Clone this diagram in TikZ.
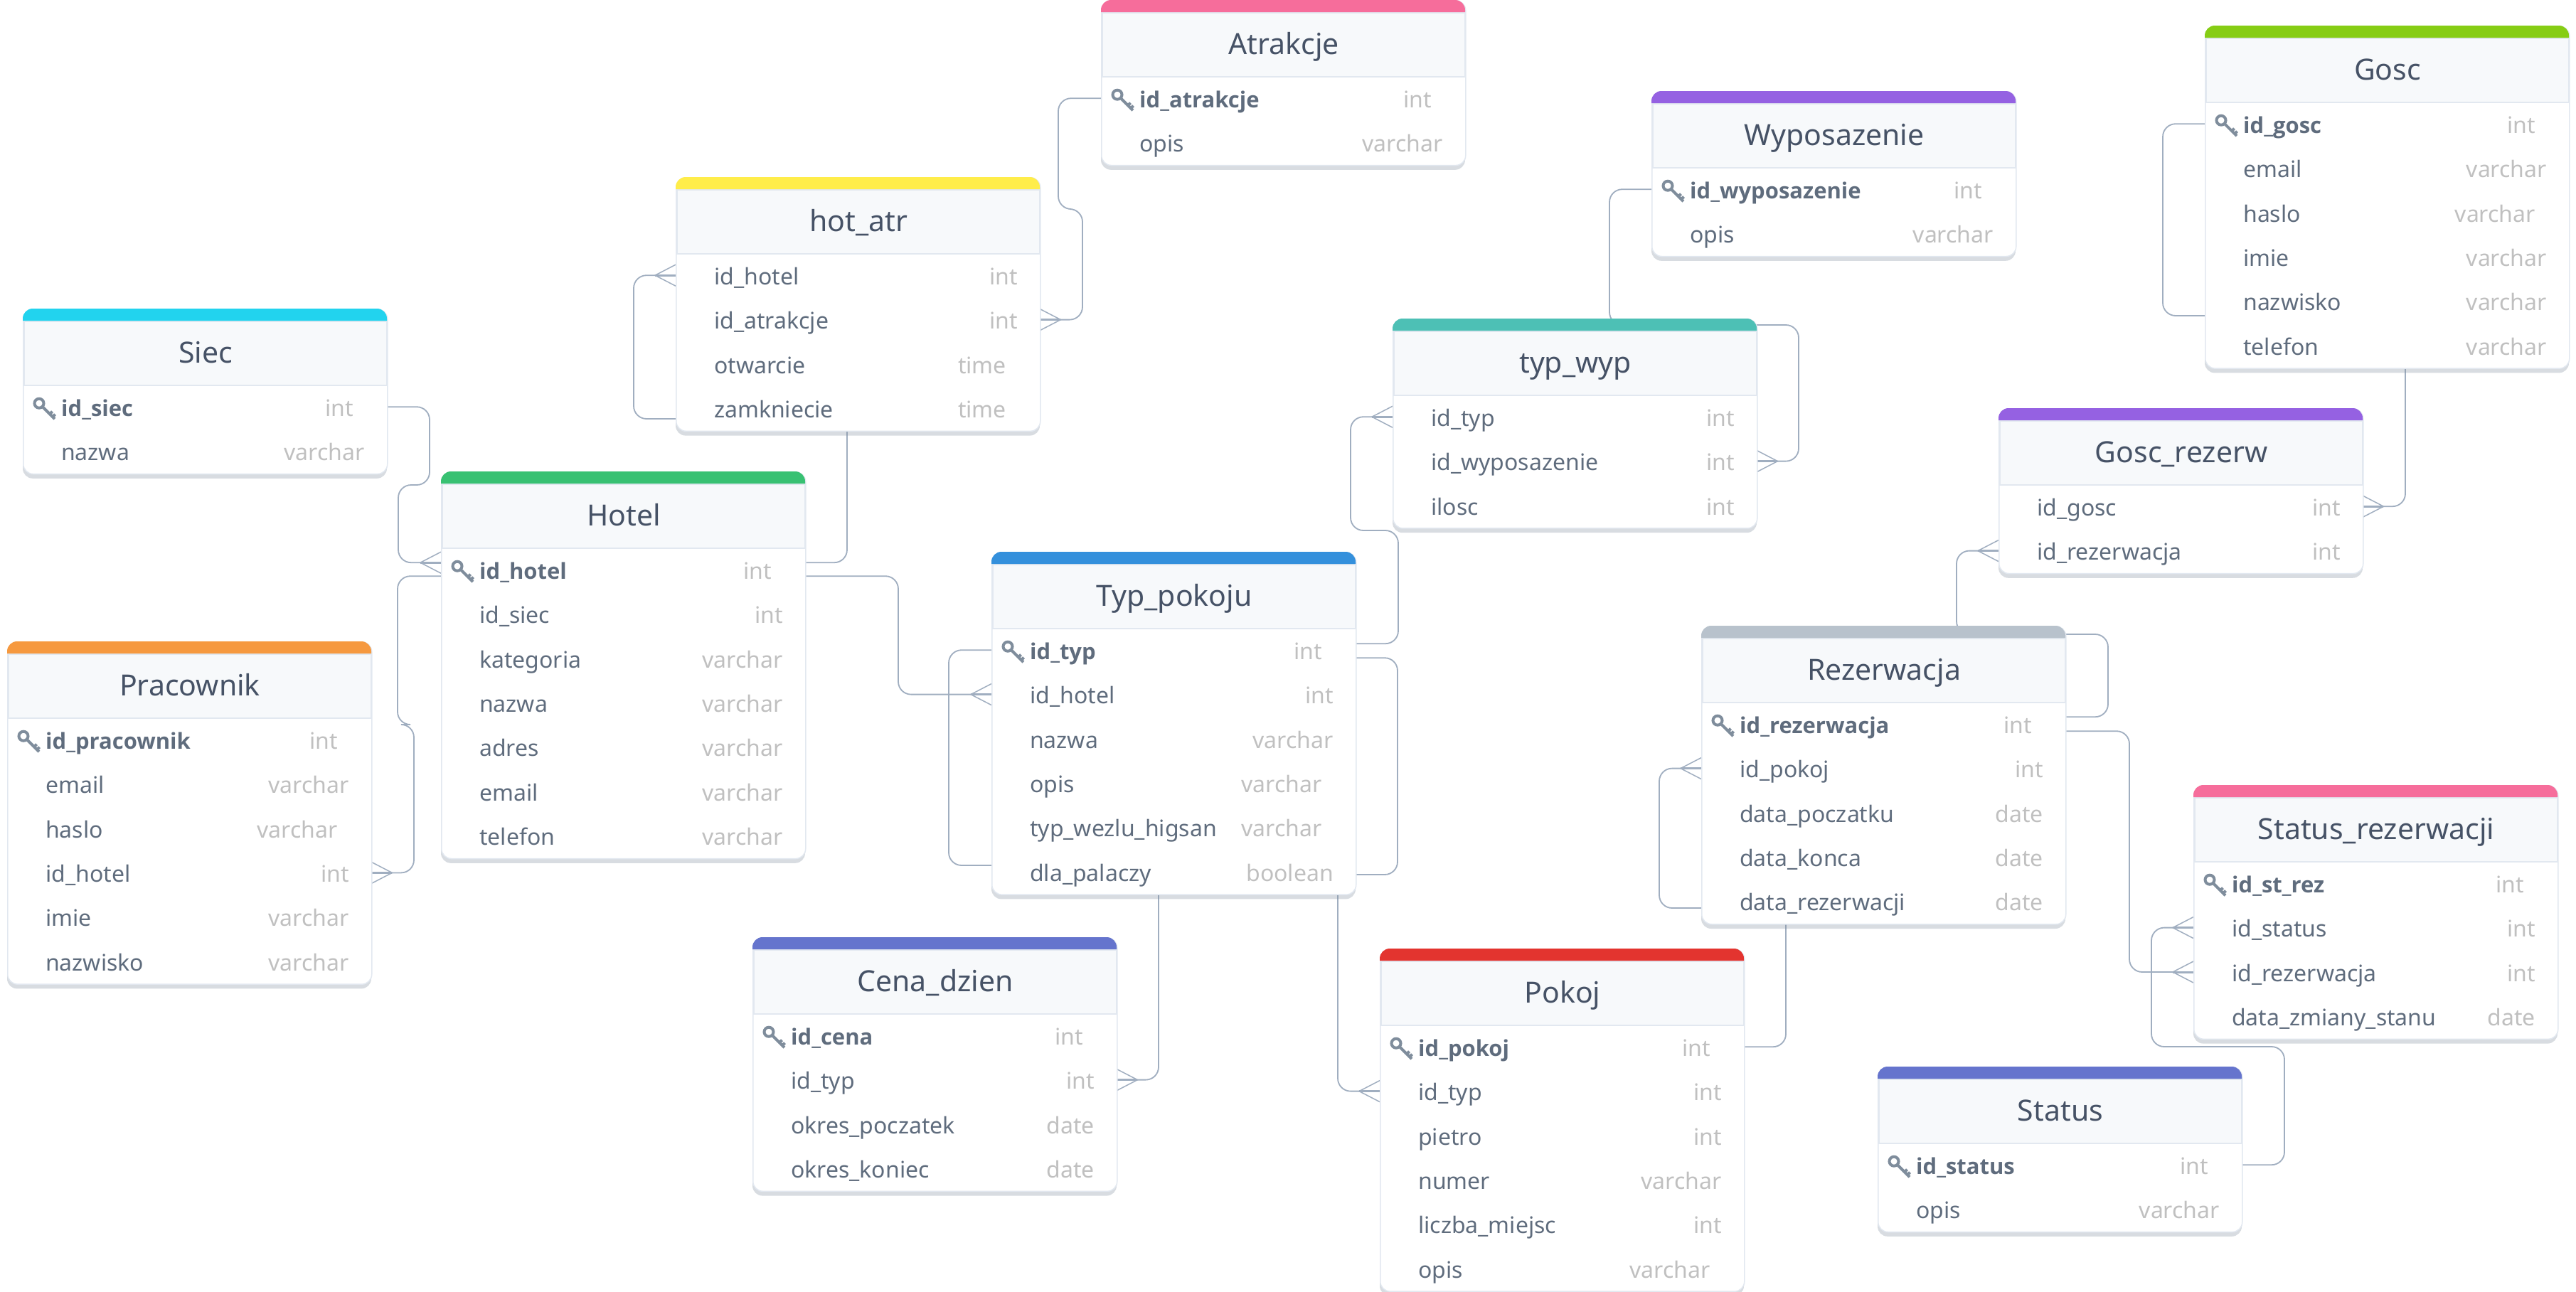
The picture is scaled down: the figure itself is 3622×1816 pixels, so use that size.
\documentclass[tikz,border=0pt]{standalone}
\usepackage{fontspec}
\setmainfont{Noto Sans}
\newfontfamily\keyface{Open Sans}
\usetikzlibrary{backgrounds}
\definecolor{colCyan}{HTML}{22D3EE}
\definecolor{colGreen}{HTML}{38C172}
\definecolor{colOrange}{HTML}{F6993F}
\definecolor{colBlue}{HTML}{3490DC}
\definecolor{colYellow}{HTML}{FFED4A}
\definecolor{colPink}{HTML}{F66D9B}
\definecolor{colPurple}{HTML}{9561E2}
\definecolor{colTeal}{HTML}{4DC0B5}
\definecolor{colIndigo}{HTML}{6574CD}
\definecolor{colRed}{HTML}{E3342F}
\definecolor{colGrey}{HTML}{B8C2CC}
\definecolor{colLime}{HTML}{86CD14}
\definecolor{cLine}{HTML}{A0AEC0}
\definecolor{cEdge}{HTML}{E2E8F0}
\definecolor{cHead}{HTML}{F7F9FB}
\definecolor{cTitle}{HTML}{465266}
\definecolor{cField}{HTML}{5F6C7D}
\definecolor{cType}{HTML}{C0C0C0}
\definecolor{cKey}{HTML}{7F8D9C}
\tikzset{
  tablebody/.style={draw=cEdge,line width=1.5pt,fill=white,rounded corners=14pt,
    minimum width=512pt,inner sep=0pt,anchor=north west},
  tableshade/.style={fill=cKey,opacity=.3,rounded corners=14pt},
  headbox/.style={draw=cEdge,line width=2pt,fill=cHead,minimum width=510pt,minimum height=90pt,
    inner sep=0pt,anchor=north west,text=cTitle,font=\fontsize{41}{46}\selectfont,
    text height=34pt,text depth=8pt},
  rowbox/.style={minimum width=512pt,minimum height=62.4pt,inner sep=0pt,anchor=west},
  fieldlab/.style={anchor=west,inner sep=0pt,text=cField,font=\fontsize{32}{38}\selectfont,
    text height=30pt,text depth=4pt},
  typelab/.style={anchor=east,inner sep=0pt,text=cType,font=\fontsize{32}{38}\selectfont,
    text height=30pt,text depth=4pt},
  relline/.style={draw=cLine,line width=1.8pt,rounded corners=18pt},
  crowline/.style={draw=cLine,line width=1.5pt},
  crowstem/.style={draw=cLine,line width=3pt},
  keyicon/.pic={
    \draw[draw=cKey,line width=4pt] (-8,-8) circle (6.5pt);
    \draw[draw=cKey,line width=4pt] (-3.5,-3.5) -- (14,14) (7,7) -- (10.5,3.5) (11,11) -- (14.5,7.5);
  },
}
% id, left, top, colour, title, number of rows, rows (name/type/kind: 0 plain, 1 moved type, 2 key)
\newcommand{\ertable}[7]{
  \fill[tableshade] ({#2},{#3+20}) rectangle ({#2+512},{#3+114+62.4*#6});
  \node[tablebody,minimum height={(107+62.4*#6)*1pt}] (#1) at (#2,#3) {};
  \node[headbox] (#1-head) at ({#2+1},{#3+17}) {#5};
  \fill[#4] [rounded corners=14pt] ({#2},{#3+17}) -- (#2,#3) -- ({#2+512},#3) -- ({#2+512},{#3+17});
  \foreach \fname/\ftype/\fkind [count=\i] in {#7}{
    \ifnum\fkind>0 \def\typeshift{47}\else\def\typeshift{31}\fi
    \node[rowbox] (#1\i) at (#2,{#3+75.8+62.4*\i}) {};
    \ifnum\fkind=2
      \pic at ({#2+31},{#3+78.8+62.4*\i}) {keyicon};
      \node[fieldlab,font=\fontsize{31}{38}\keyface\bfseries] (#1\i-name) at ({#2+54},{#3+75.8+62.4*\i}) {\fname};
    \else
      \node[fieldlab] (#1\i-name) at ({#2+54},{#3+75.8+62.4*\i}) {\fname};
    \fi
    \node[typelab] (#1\i-type) at ({#2+512-\typeshift},{#3+75.8+62.4*\i}) {\ftype};
  }
}
\newcommand{\crowL}[2][0pt]{
  \draw[crowline] ([yshift=#1+15pt]#2) -- ([xshift=-29pt,yshift=#1]#2) -- ([yshift=#1-15pt]#2);
  \draw[crowstem] ([xshift=-29pt,yshift=#1]#2) -- ([yshift=#1]#2);
}
\newcommand{\crowR}[1]{
  \draw[crowline] ([yshift=15pt]#1) -- ([xshift=29pt]#1) -- ([yshift=-15pt]#1);
  \draw[crowstem] ([xshift=29pt]#1) -- (#1);
}

\begin{document}
\begin{tikzpicture}[x=1pt,y=-1pt]
  \useasboundingbox (0,0) rectangle (3622,1816);
  \ertable{atrakcje}{1548}{0}{colPink}{Atrakcje}{2}{id\_atrakcje/int/2,opis/varchar/0}
  \ertable{wypos}{2322}{128}{colPurple}{Wyposazenie}{2}{id\_wyposazenie/int/2,opis/varchar/0}
  \ertable{gosc}{3100}{36}{colLime}{Gosc}{6}{id\_gosc/int/2,email/varchar/0,haslo/varchar/1,imie/varchar/0,nazwisko/varchar/0,telefon/varchar/0}
  \ertable{hotatr}{950}{249}{colYellow}{hot\_atr}{4}{id\_hotel/int/0,id\_atrakcje/int/0,otwarcie/time/1,zamkniecie/time/1}
  \ertable{typwyp}{1958}{448}{colTeal}{typ\_wyp}{3}{id\_typ/int/0,id\_wyposazenie/int/0,ilosc/int/0}
  \ertable{siec}{32}{434}{colCyan}{Siec}{2}{id\_siec/int/2,nazwa/varchar/0}
  \ertable{goscrez}{2810}{574}{colPurple}{Gosc\_rezerw}{2}{id\_gosc/int/0,id\_rezerwacja/int/0}
  \ertable{hotel}{620}{663}{colGreen}{Hotel}{7}{id\_hotel/int/2,id\_siec/int/0,kategoria/varchar/0,nazwa/varchar/0,adres/varchar/0,email/varchar/0,telefon/varchar/0}
  \ertable{rezerw}{2392}{880}{colGrey}{Rezerwacja}{5}{id\_rezerwacja/int/2,id\_pokoj/int/0,data\_poczatku/date/0,data\_konca/date/0,data\_rezerwacji/date/0}
  \ertable{typpok}{1394}{776}{colBlue}{Typ\_pokoju}{6}{id\_typ/int/2,id\_hotel/int/0,nazwa/varchar/0,opis/varchar/1,typ\_wezlu\_higsan/varchar/1,dla\_palaczy/boolean/0}
  \ertable{pracow}{10}{902}{colOrange}{Pracownik}{6}{id\_pracownik/int/2,email/varchar/0,haslo/varchar/1,id\_hotel/int/0,imie/varchar/0,nazwisko/varchar/0}
  \ertable{statrez}{3084}{1104}{colPink}{Status\_rezerwacji}{4}{id\_st\_rez/int/2,id\_status/int/0,id\_rezerwacja/int/0,data\_zmiany\_stanu/date/0}
  \ertable{cena}{1058}{1318}{colIndigo}{Cena\_dzien}{4}{id\_cena/int/2,id\_typ/int/0,okres\_poczatek/date/0,okres\_koniec/date/0}
  \ertable{pokoj}{1940}{1334}{colRed}{Pokoj}{6}{id\_pokoj/int/2,id\_typ/int/0,pietro/int/0,numer/varchar/0,liczba\_miejsc/int/0,opis/varchar/1}
  \ertable{status}{2640}{1500}{colIndigo}{Status}{2}{id\_status/int/2,opis/varchar/0}

  \begin{pgfonlayer}{background}
    \fill[white] (0,0) rectangle (3622,1816);
    \draw[relline] (siec1.east) -- (604,572.2) -- (604,682) -- (560,682) -- (560,791.2) -- ([yshift=10pt]hotel1.west);
    \crowL[10pt]{hotel1.west}
    \draw[relline] ([yshift=-9pt]hotel1.west) -- (559,810.2) -- (559,1019) -- (582,1019) -- (582,1227.4) -- (pracow4.east);
    \crowR{pracow4.east}
    \draw[relline] ([yshift=10pt]hotel1.east) -- (1191,791.2) -- (1191,589) -- (891,589) -- (891,387.2) -- (hotatr1.west);
    \crowL{hotatr1.west}
    \draw[relline] ([yshift=-9pt]hotel1.east) -- (1263,810.2) -- (1263,976.6) -- (typpok2.west);
    \crowL{typpok2.west}
    \draw[relline] (atrakcje1.west) -- (1488,138.2) -- (1488,294) -- (1522,294) -- (1522,449.6) -- (hotatr2.east);
    \crowR{hotatr2.east}
    \draw[relline] (wypos1.west) -- (2263,266.2) -- (2263,457) -- (2529,457) -- (2529,648.6) -- (typwyp2.east);
    \crowR{typwyp2.east}
    \draw[relline] ([yshift=9pt]typpok1.east) -- (1966,905.2) -- (1966,746) -- (1899,746) -- (1899,586.2) -- (typwyp1.west);
    \crowL{typwyp1.west}
    \draw[relline] (typpok1.west) -- (1334,914.2) -- (1334,1217) -- (1629,1217) -- (1629,1518.6) -- (cena2.east);
    \crowR{cena2.east}
    \draw[relline] ([yshift=-11pt]typpok1.east) -- (1965,925.2) -- (1965,1230) -- (1881,1230) -- (1881,1534.6) -- (pokoj2.west);
    \crowL{pokoj2.west}
    \draw[relline] (pokoj1.east) -- (2511,1472.2) -- (2511,1277) -- (2333,1277) -- (2333,1080.6) -- (rezerw2.west);
    \crowL{rezerw2.west}
    \draw[relline] ([yshift=10pt]rezerw1.east) -- (2964,1008.2) -- (2964,892) -- (2751,892) -- (2751,774.6) -- (goscrez2.west);
    \crowL{goscrez2.west}
    \draw[relline] ([yshift=-10pt]rezerw1.east) -- (2994,1028.2) -- (2994,1367) -- (statrez3.west);
    \crowL{statrez3.west}
    \draw[relline] (status1.east) -- (3212,1638.2) -- (3212,1472) -- (3025,1472) -- (3025,1304.6) -- (statrez2.west);
    \crowL{statrez2.west}
    \draw[relline] (gosc1.west) -- (3041,174.2) -- (3041,444) -- (3382,444) -- (3382,712.2) -- (goscrez1.east);
    \crowR{goscrez1.east}
  \end{pgfonlayer}
\end{tikzpicture}
\end{document}
